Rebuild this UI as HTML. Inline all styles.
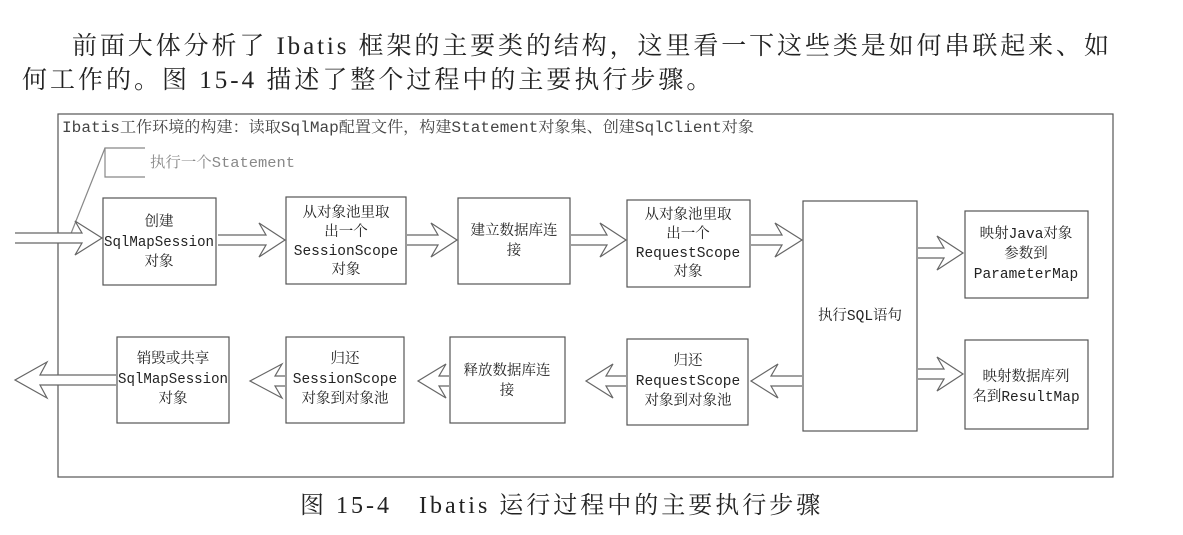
<!DOCTYPE html>
<html><head><meta charset="utf-8"><style>
body{margin:0;background:#fff;width:1183px;height:535px;overflow:hidden;position:relative;font-family:"Liberation Serif","Noto Serif CJK SC",serif;color:#222}
.p{position:absolute;font-size:25px;white-space:nowrap}
</style></head><body>
<div class="p" style="left:72px;top:26px;letter-spacing:2.9px">前面大体分析了 Ibatis 框架的主要类的结构，这里看一下这些类是如何串联起来、如</div>
<div class="p" style="left:22px;top:60px;letter-spacing:3px">何工作的。图 15-4 描述了整个过程中的主要执行步骤。</div>
<div class="p" style="left:300px;top:485px;font-size:24px;letter-spacing:3px">图 15-4&nbsp;&nbsp;&nbsp;Ibatis 运行过程中的主要执行步骤</div>
<svg width="1183" height="535" style="position:absolute;left:0;top:0" font-family="Liberation Mono, Noto Serif CJK SC, monospace" font-size="14.5" fill="none" stroke="#555" stroke-width="1.2">
<rect x="58" y="114" width="1055" height="363"/>
<text x="62" y="132" fill="#444" stroke="none" font-size="15.5" textLength="692" lengthAdjust="spacingAndGlyphs">Ibatis工作环境的构建：读取SqlMap配置文件，构建Statement对象集、创建SqlClient对象</text>
<polyline points="145,148 105,148 105,177 145,177" stroke="#888"/>
<line x1="105" y1="148" x2="70" y2="236" stroke="#888"/>
<text x="150" y="167" fill="#888" stroke="none" font-size="15" textLength="145" lengthAdjust="spacingAndGlyphs">执行一个Statement</text>
<g fill="#fff">
<rect x="103" y="198" width="113" height="87"/>
<rect x="286" y="197" width="120" height="87"/>
<rect x="458" y="198" width="112" height="86"/>
<rect x="627" y="200" width="123" height="87"/>
<rect x="803" y="201" width="114" height="230"/>
<rect x="965" y="211" width="123" height="87"/>
<rect x="965" y="340" width="123" height="89"/>
<rect x="117" y="337" width="112" height="86"/>
<rect x="286" y="337" width="118" height="86"/>
<rect x="450" y="337" width="115" height="86"/>
<rect x="627" y="339" width="121" height="86"/>
</g>
<g fill="#fff" stroke="#666">
<polyline points="15,233 82,233 75,221 102,238 75,255 82,243 15,243"/>
<polyline points="218,235 266,235 259,223 285,240 259,257 266,245 218,245"/>
<polyline points="407,235 438,235 431,223 457,240 431,257 438,245 407,245"/>
<polyline points="571,235 607,235 600,223 626,240 600,257 607,245 571,245"/>
<polyline points="751,235 782,235 775,223 802,240 775,257 782,245 751,245"/>
<polyline points="918,248 944,248 937,236 963,253 937,270 944,258 918,258"/>
<polyline points="918,369 944,369 937,357 963,374 937,391 944,379 918,379"/>
<polyline points="802,376 771,376 778,364 751,381 778,398 771,386 802,386"/>
<polyline points="626,376 606,376 613,364 586,381 613,398 606,386 626,386"/>
<polyline points="449,376 439,376 446,364 418,381 446,398 439,386 449,386"/>
<polyline points="285,376 275,376 282,364 250,381 282,398 275,386 285,386"/>
<polyline points="116,375 40,375 47,362 15,380 47,398 40,385 116,385"/>
</g>
<g fill="#222" stroke="none" text-anchor="middle">
<text x="159" y="226">创建</text><text x="159" y="246" textLength="110" lengthAdjust="spacingAndGlyphs">SqlMapSession</text><text x="159" y="266">对象</text>
<text x="346" y="217">从对象池里取</text><text x="346" y="236">出一个</text><text x="346" y="255">SessionScope</text><text x="346" y="274">对象</text>
<text x="514" y="235">建立数据库连</text><text x="514" y="255">接</text>
<text x="688" y="219">从对象池里取</text><text x="688" y="238">出一个</text><text x="688" y="257">RequestScope</text><text x="688" y="276">对象</text>
<text x="860" y="320">执行SQL语句</text>
<text x="1026" y="238">映射Java对象</text><text x="1026" y="258">参数到</text><text x="1026" y="278">ParameterMap</text>
<text x="1026" y="381">映射数据库列</text><text x="1026" y="401">名到ResultMap</text>
<text x="173" y="363">销毁或共享</text><text x="173" y="383" textLength="110" lengthAdjust="spacingAndGlyphs">SqlMapSession</text><text x="173" y="403">对象</text>
<text x="345" y="363">归还</text><text x="345" y="383">SessionScope</text><text x="345" y="403">对象到对象池</text>
<text x="507" y="375">释放数据库连</text><text x="507" y="395">接</text>
<text x="688" y="365">归还</text><text x="688" y="385">RequestScope</text><text x="688" y="405">对象到对象池</text>
</g>
</svg>
</body></html>
